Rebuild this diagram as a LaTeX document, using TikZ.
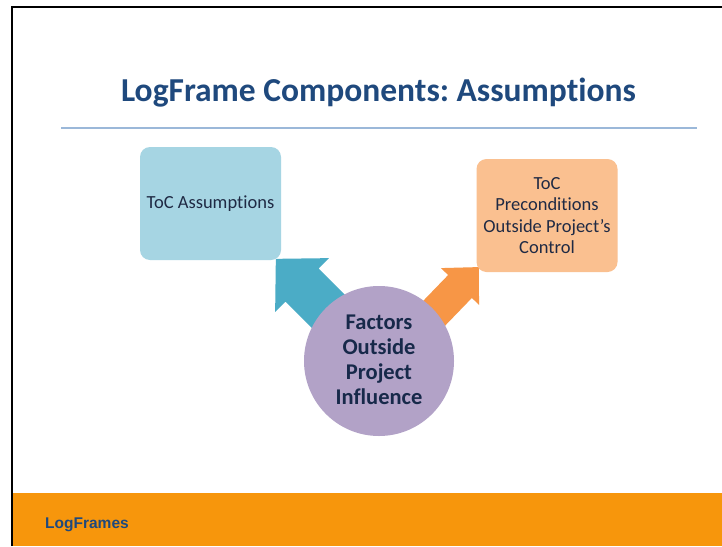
\documentclass[tikz,border=0pt]{standalone}
\usepackage{fontspec}
\setmainfont{Carlito}[Ligatures=NoCommon]
\newfontfamily\footfont{Liberation Sans}
\frenchspacing
\definecolor{titleblue}{HTML}{1F497D}
\definecolor{rulecol}{HTML}{9BB8D9}
\definecolor{boxblue}{HTML}{A6D5E3}
\definecolor{boxpeach}{HTML}{FAC090}
\definecolor{tealarrow}{HTML}{4BACC6}
\definecolor{orangearrow}{HTML}{F79646}
\definecolor{circfill}{HTML}{B2A2C7}
\definecolor{boxtext}{HTML}{1F2A44}
\definecolor{circtext}{HTML}{17294A}
\definecolor{footorange}{HTML}{F7960C}
\tikzset{
  roundbox/.style={rounded corners=10pt, inner sep=0pt, minimum width=141, minimum height=113, align=center,
    text=boxtext, font=\fontsize{18.5}{21.3}\selectfont},
  bigarrow/.style={draw=none}
}
\begin{document}
\begin{tikzpicture}[x=1pt,y=-1pt]
\useasboundingbox (0,0) rectangle (722,546);
\fill[white] (0,0) rectangle (722,546);
% footer band
\fill[footorange] (11,493) rectangle (722,546);
% frame
\coordinate (fbl) at (12,546);
\coordinate (ftl) at (12,6.7);
\coordinate (ftr) at (722,6.7);
\draw[black, line width=2pt] (fbl) -- (ftl) -- (ftr);
% title
\node[anchor=base, font=\bfseries\fontsize{33.5}{36}\selectfont, text=titleblue, inner sep=0pt] (title) at (378.5,101) {LogFrame Components: Assumptions};
\coordinate (rl) at (61,128);
\coordinate (rr) at (697,128);
\draw[rulecol, line width=2pt] (rl) -- (rr);
% arrows
\begin{scope}[shift={(302,285)}, rotate=135]
  \fill[tealarrow] (-110,-23.5) -- (0,-23.5) -- (0,-38) -- (37,0) -- (0,38) -- (0,23.5) -- (-110,23.5) -- cycle;
\end{scope}
\begin{scope}[shift={(460,286.5)}, rotate=46]
  \fill[orangearrow] (-110,-16.5) -- (0,-16.5) -- (0,-26.5) -- (27,0) -- (0,26.5) -- (0,16.5) -- (-110,16.5) -- cycle;
\end{scope}
% circle
\node[circle, fill=circfill, minimum size=150, inner sep=0pt] (fac) at (379,361) {};
\node[align=center, text=circtext, font=\bfseries\fontsize{22.5}{25}\selectfont, inner sep=0pt] (factxt) at (379,359.5) {Factors\\Outside\\Project\\Influence};
% boxes
\node[roundbox, fill=boxblue] (assump) at (210.5,203.5) {ToC Assumptions};
\node[roundbox, fill=boxpeach] (precond) at (547,215.5) {ToC\\Preconditions\\Outside Project’s\\Control};
% footer text
\node[anchor=base west, font=\footfont\bfseries\fontsize{15.5}{18}\selectfont, text=titleblue, inner sep=0pt] (foot) at (45,528) {LogFrames};
\end{tikzpicture}
\end{document}
